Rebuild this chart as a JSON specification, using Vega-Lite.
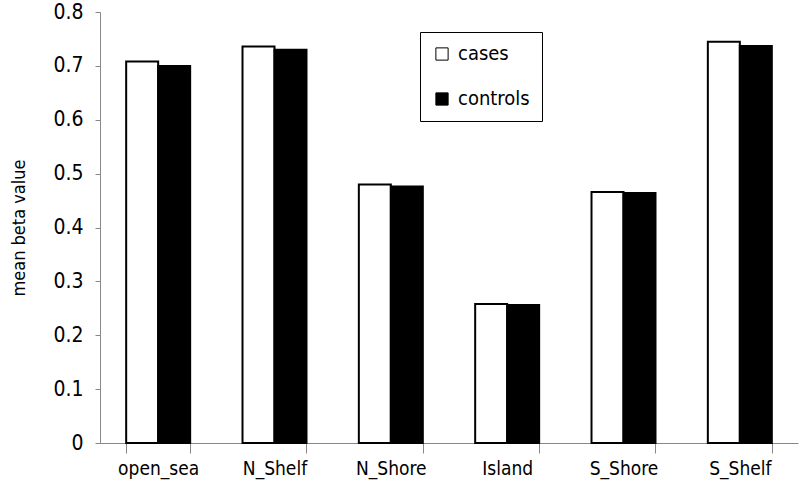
{
  "$schema": "https://vega.github.io/schema/vega-lite/v6.json",
  "autosize": {"type": "none"},
  "padding": {"left": 100, "top": 12, "right": 2, "bottom": 41},
  "width": 698,
  "height": 431,
  "background": "white",
  "data": {"values": [
    {"region": "open_sea", "group": "cases", "value": 0.708},
    {"region": "open_sea", "group": "controls", "value": 0.700},
    {"region": "N_Shelf", "group": "cases", "value": 0.736},
    {"region": "N_Shelf", "group": "controls", "value": 0.730},
    {"region": "N_Shore", "group": "cases", "value": 0.480},
    {"region": "N_Shore", "group": "controls", "value": 0.476},
    {"region": "Island", "group": "cases", "value": 0.258},
    {"region": "Island", "group": "controls", "value": 0.256},
    {"region": "S_Shore", "group": "cases", "value": 0.466},
    {"region": "S_Shore", "group": "controls", "value": 0.464},
    {"region": "S_Shelf", "group": "cases", "value": 0.745},
    {"region": "S_Shelf", "group": "controls", "value": 0.737}
  ]},
  "config": {
    "view": {"stroke": null},
    "font": "DejaVu Sans Condensed, Liberation Sans, sans-serif",
    "axis": {"grid": false, "domainColor": "#888888", "tickColor": "#888888", "labelColor": "black", "labelFont": "DejaVu Sans Condensed, Liberation Sans, sans-serif", "titleFont": "DejaVu Sans Condensed, Liberation Sans, sans-serif", "titleFontWeight": "normal"},
    "legend": {"labelFont": "DejaVu Sans Condensed, Liberation Sans, sans-serif"}
  },
  "mark": {"type": "bar", "stroke": "black", "strokeWidth": 2},
  "encoding": {
    "x": {
      "field": "region", "type": "nominal",
      "sort": ["open_sea", "N_Shelf", "N_Shore", "Island", "S_Shore", "S_Shelf"],
      "scale": {"paddingInner": 0.45, "paddingOuter": 0.225},
      "axis": {"title": null, "labelAngle": 0, "labelFontSize": 19, "labelPadding": 6, "labelOverlap": false, "tickBand": "extent", "tickSize": 10, "domainColor": "#888888"}
    },
    "xOffset": {"field": "group", "type": "nominal", "scale": {"paddingInner": 0}},
    "y": {
      "field": "value", "type": "quantitative",
      "scale": {"domain": [0, 0.8]},
      "axis": {"title": "mean beta value", "titleFontSize": 18, "titlePadding": 24, "labelFontSize": 21, "labelOverlap": false, "values": [0, 0.1, 0.2, 0.3, 0.4, 0.5, 0.6, 0.7, 0.8], "format": "~g", "tickSize": 5, "labelPadding": 12}
    },
    "fill": {
      "field": "group", "type": "nominal",
      "scale": {"domain": ["cases", "controls"], "range": ["white", "black"]},
      "legend": {
        "title": null, "orient": "none", "legendX": 320, "legendY": 20,
        "strokeColor": "black", "padding": 12, "symbolType": "square", "symbolSize": 150,
        "symbolStrokeColor": "black", "symbolStrokeWidth": 1,
        "labelFontSize": 20, "rowPadding": 25, "labelOffset": 6, "labelLimit": 200
      }
    }
  }
}
